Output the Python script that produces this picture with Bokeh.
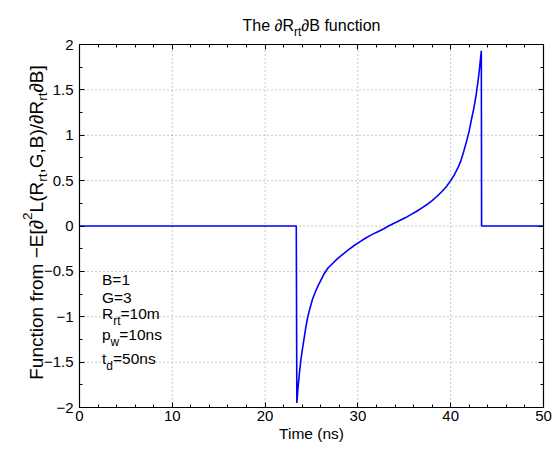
import numpy as np
from bokeh.plotting import figure
from bokeh.models import Range1d, LinearAxis, FixedTicker, Label
from bokeh.embed import file_html
from bokeh.resources import INLINE

# ---------------- data ----------------
time_ns = [0, 23.36, 23.42, 23.55, 23.7, 23.85, 24.0, 24.2, 24.4, 24.6,
           24.85, 25.1, 25.4, 25.7, 26.0, 26.4, 26.8, 27.3, 27.8, 28.4,
           29.0, 29.6, 30.2, 30.8, 31.5, 32.2, 32.8, 33.3, 33.9, 34.5,
           35.1, 35.7, 36.3, 36.9, 37.5, 38.0, 38.5, 39.0, 39.5, 40.0,
           40.4, 40.8, 41.1, 41.4, 41.7, 42.0, 42.25, 42.5, 42.75, 42.95,
           43.1, 43.2, 43.3, 43.33, 50]
func_vals = [0, 0, -1.95, -1.78, -1.62, -1.48, -1.37, -1.24, -1.11, -1.0,
             -0.9, -0.81, -0.73, -0.66, -0.6, -0.52, -0.46, -0.41, -0.36, -0.31,
             -0.26, -0.215, -0.175, -0.135, -0.095, -0.06, -0.03, 0.0, 0.03, 0.06,
             0.09, 0.125, 0.16, 0.2, 0.24, 0.28, 0.325, 0.375, 0.43, 0.5,
             0.565, 0.645, 0.72, 0.82, 0.93, 1.05, 1.18, 1.3, 1.45, 1.6,
             1.73, 1.83, 1.93, 0, 0]

x_ticks = [0, 10, 20, 30, 40, 50]
x_tick_labels = ["0", "10", "20", "30", "40", "50"]
y_ticks = [-2, -1.5, -1, -0.5, 0, 0.5, 1, 1.5, 2]
y_tick_labels = ["\u22122", "\u22121.5", "\u22121", "\u22120.5", "0", "0.5", "1", "1.5", "2"]

param_names = ["B", "G", "R", "p", "t"]
param_subs = ["", "", "rt", "w", "d"]
param_values = ["=1", "=3", "=10m", "=10ns", "=50ns"]

X0, X1, Y0, Y1 = 0, 50, -2, 2

# ---------------- layout constants (pixels) ----------------
W, H = 553, 451
FL, FR, FT, FB = 79, 543, 44, 407      # axes box inside the canvas
FONT = "Liberation Sans"

# The plotting frame fills the whole canvas; the axes box is placed inside it
# so that text annotations outside the box are not clipped.
xs = (X1 - X0) / (FR - FL)
ys = (Y1 - Y0) / (FB - FT)
p = figure(width=W, height=H,
           x_range=Range1d(X0 - FL * xs, X1 + (W - FR) * xs),
           y_range=Range1d(Y0 - (H - FB) * ys, Y1 + FT * ys),
           output_backend="svg", toolbar_location=None, min_border=0,
           x_axis_location=None, y_axis_location=None)
p.title.visible = False
p.background_fill_color = "white"
p.border_fill_color = "white"
p.outline_line_color = None
p.xgrid.visible = False
p.ygrid.visible = False

x_minor = list(np.arange(0, 50.01, 2.0))
y_minor = list(np.arange(-2, 2.01, 0.25))

# dotted grid (at the major ticks, inside the box)
p.segment(x0=x_ticks[1:-1], y0=Y0, x1=x_ticks[1:-1], y1=Y1,
          line_color="#909090", line_dash="1 3", line_width=1)
p.segment(x0=X0, y0=y_ticks[1:-1], x1=X1, y1=y_ticks[1:-1],
          line_color="#909090", line_dash="1 3", line_width=1)

p.line(time_ns, func_vals, line_color="#0000ff", line_width=1.6)


def make_axis(ticks, minor, labels, show_labels, loc, bounds):
    ax = LinearAxis(ticker=FixedTicker(ticks=ticks, minor_ticks=minor),
                    fixed_location=loc, bounds=bounds)
    ax.axis_line_color = "black"
    ax.axis_line_width = 1.2
    ax.major_tick_in = 5
    ax.major_tick_out = 0
    ax.minor_tick_in = 3
    ax.minor_tick_out = 0
    ax.major_tick_line_color = "black"
    ax.minor_tick_line_color = "black"
    ax.major_tick_line_width = 1
    ax.minor_tick_line_width = 1
    if show_labels:
        ax.major_label_overrides = {float(t): s for t, s in zip(ticks, labels)}
        ax.major_label_text_font = FONT
        ax.major_label_text_font_size = "15px"
        ax.major_label_text_color = "black"
    else:
        ax.major_label_text_font_size = "0px"
        ax.major_label_text_color = None
        ax.major_label_standoff = 0
    return ax


xb = make_axis(x_ticks, x_minor, x_tick_labels, True, Y0, (X0, X1))
xb.major_label_standoff = 3
xb.axis_label = "Time (ns)"
xb.axis_label_text_font = FONT
xb.axis_label_text_font_size = "15.5px"
xb.axis_label_text_font_style = "normal"
xb.axis_label_text_color = "black"
xb.axis_label_standoff = 1
p.add_layout(xb, "below")

yl = make_axis(y_ticks, y_minor, y_tick_labels, True, X0, (Y0, Y1))
yl.major_label_standoff = 6
p.add_layout(yl, "left")

p.add_layout(make_axis(x_ticks, x_minor, x_tick_labels, False, Y1, (X0, X1)), "above")
p.add_layout(make_axis(y_ticks, y_minor, y_tick_labels, False, X1, (Y0, Y1)), "right")

# ---------------- rich text helpers ----------------
ARIAL = {' ': 278, '(': 333, ')': 333, ',': 278, '.': 278, '/': 278, '=': 584,
         '[': 278, ']': 278, '\u2212': 584, '\u2202': 494,
         'B': 667, 'E': 667, 'F': 611, 'G': 778, 'L': 556, 'R': 722, 'T': 611,
         'c': 500, 'd': 556, 'e': 556, 'f': 278, 'h': 556, 'i': 222, 'm': 833,
         'n': 556, 'o': 556, 'p': 556, 'r': 333, 's': 500, 't': 278, 'u': 556, 'w': 722}


def text_w(s, size):
    return sum(ARIAL.get(ch, 556) for ch in s) * size / 1000.0


def rich_width(pieces, size, small):
    return sum(text_w(t, size if k == "n" else small) for t, k in pieces)


def rich(px, py, pieces, size, small, drop, rise, vertical=False):
    """Place text pieces in canvas pixels (origin top-left)."""
    pos = 0.0
    for txt, kind in pieces:
        fs = size if kind == "n" else small
        shift = {"n": 0.0, "sub": drop, "sup": -rise}[kind]
        if vertical:
            lx, ly, ang = px + shift, py - pos, np.pi / 2
        else:
            lx, ly, ang = px + pos, py + shift, 0.0
        p.add_layout(Label(x=lx, y=ly, x_units="canvas", y_units="canvas",
                           text=txt, angle=ang,
                           text_font=FONT, text_font_size=f"{fs}px",
                           text_color="black", text_align="left",
                           text_baseline="alphabetic"))
        pos += text_w(txt, fs)


# title
title_pieces = [("The \u2202R", "n"), ("rt", "sub"), ("\u2202B function", "n")]
tw_ = rich_width(title_pieces, 16, 12)
rich((FL + FR) / 2 - tw_ / 2, 24.5, title_pieces, 16, 12, 7, 0)

# y axis label
ylab_pieces = [("Function from \u2212E[\u2202", "n"), ("2", "sup"), ("L(R", "n"),
               ("rt", "sub"), (",G,B)/\u2202R", "n"), ("rt", "sub"), ("\u2202B]", "n")]
yw_ = rich_width(ylab_pieces, 19, 13.5)
rich(36, 222 + yw_ / 2, ylab_pieces, 19, 13.5, 6, 9.5, vertical=True)

# parameter annotation
param_baselines = [279, 297, 313, 333.5, 358]
for name, sub, val, by in zip(param_names, param_subs, param_values, param_baselines):
    pieces = [(name, "n")]
    if sub:
        pieces.append((sub, "sub"))
    pieces.append((val, "n"))
    rich(101.5, by, pieces, 15.5, 12, 7.5, 0)

open("out.html", "w").write(file_html(p, INLINE))
